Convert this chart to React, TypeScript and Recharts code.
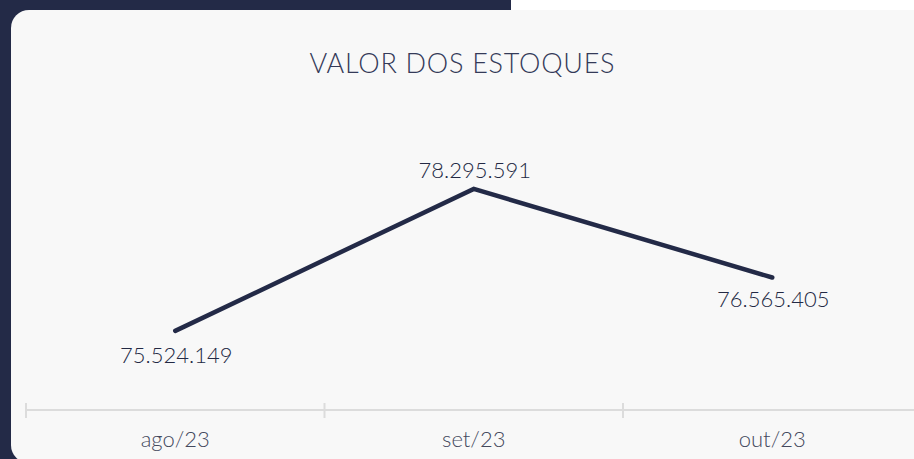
import React from 'react';
import { LineChart, Line, XAxis, YAxis, LabelList } from 'recharts';

// Valor dos estoques por mês
const months = ['ago/23', 'set/23', 'out/23'];
const stockValues = [75524149, 78295591, 76565405];

const data = months.map((m, i) => ({ month: m, valor: stockValues[i] }));

const NAVY = '#232a47';
const TEXT = '#232944';

const fmt = (v: number) => v.toLocaleString('de-DE');

const MonthTick = (props: any) => {
  const { x, y, payload } = props;
  const half = payload && payload.offset ? payload.offset : 149.25;
  return (
    <g>
      <line x1={x - half} x2={x - half} y1={y - 7} y2={y + 8} stroke="#dcdcdc" strokeWidth={2} />
      <text x={x} y={y + 37} textAnchor="middle" fill="#44495d" fontSize={22} fontFamily="Lato" fontWeight={300}>
        {payload.value}
      </text>
    </g>
  );
};

const ValueLabel = (props: any) => {
  const { x, y, value, index } = props;
  const above = index === 1;
  return (
    <text
      x={x + 1}
      y={above ? y - 11 : index === 2 ? y + 29 : y + 32}
      textAnchor="middle"
      fill={TEXT}
      fontSize={22}
      fontFamily="Lato"
      fontWeight={300}
    >
      {fmt(value)}
    </text>
  );
};

export default function App() {
  return (
    <div style={{ position: 'absolute', left: 0, top: 0, width: 914, height: 459, overflow: 'hidden', background: '#ffffff' }}>
      <div style={{ position: 'absolute', left: 0, top: 0, width: 511, height: 459, background: NAVY }} />
      <div style={{ position: 'absolute', left: 11, top: 10, width: 960, height: 453, background: '#f8f8f8', borderRadius: 18 }} />
      <svg style={{ position: 'absolute', left: 0, top: 0 }} width={914} height={459}>
        <text x={462} y={73} textAnchor="middle" fill="#343a58" fontSize={27} fontFamily="Lato" fontWeight={300} textLength={305} lengthAdjust="spacing">
          VALOR DOS ESTOQUES
        </text>
      </svg>
      <div style={{ position: 'absolute', left: 0, top: 0 }}>
        <LineChart width={940} height={459} data={data} margin={{ top: 100, right: 18.5, left: 26, bottom: 9 }}>
          <XAxis
            dataKey="month"
            scale="band"
            height={40}
            axisLine={{ stroke: '#dcdcdc', strokeWidth: 2 }}
            tickLine={false}
            tickSize={0}
            tickMargin={0}
            tick={<MonthTick />}
            interval={0}
          />
          <YAxis hide domain={[73980000, 80030000]} />
          <Line
            type="linear"
            dataKey="valor"
            stroke={NAVY}
            strokeWidth={4.5}
            strokeLinecap="round"
            dot={false}
            activeDot={false}
            isAnimationActive={false}
          >
            <LabelList dataKey="valor" content={<ValueLabel />} />
          </Line>
        </LineChart>
      </div>
    </div>
  );
}
